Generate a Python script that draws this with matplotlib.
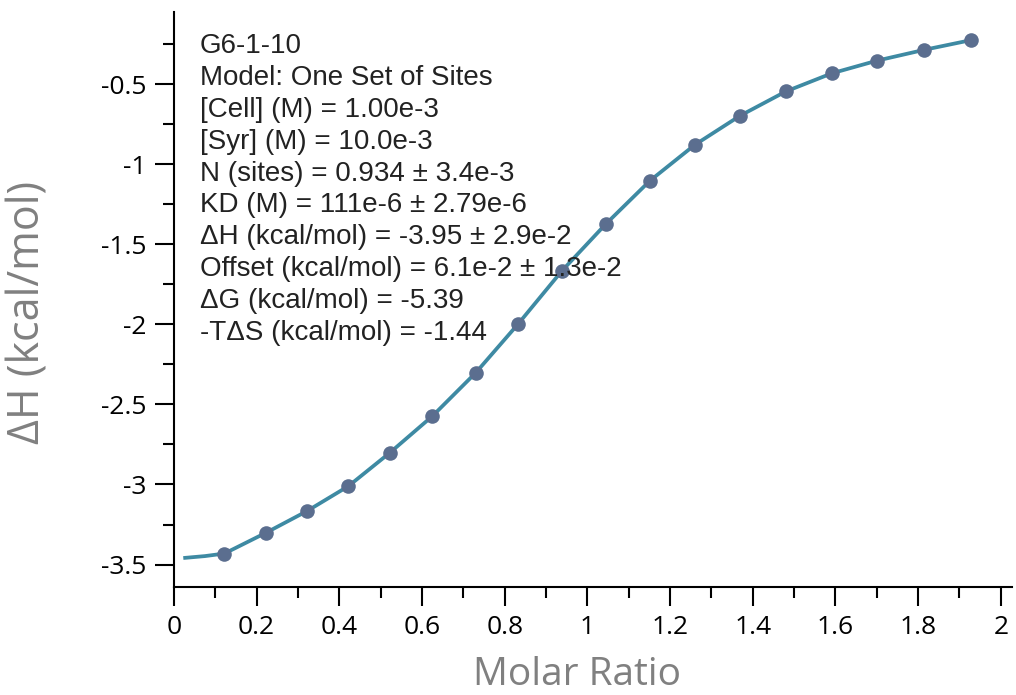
import numpy as np
import matplotlib
matplotlib.use("Agg")
import matplotlib.pyplot as plt
from matplotlib.ticker import MultipleLocator

# data
ratio = [0.122, 0.222, 0.321, 0.422, 0.522, 0.625, 0.730, 0.833, 0.938,
         1.044, 1.151, 1.260, 1.369, 1.480, 1.591, 1.700, 1.815, 1.929]
dh = [-3.431, -3.302, -3.167, -3.010, -2.802, -2.573, -2.302, -1.996, -1.667,
      -1.375, -1.104, -0.879, -0.698, -0.546, -0.433, -0.354, -0.286, -0.225]
fit_x = [0.027, 0.075, 0.122, 0.222, 0.321, 0.422, 0.522, 0.625, 0.730, 0.833,
         0.938, 1.044, 1.151, 1.260, 1.369, 1.480, 1.591, 1.700, 1.815, 1.929]
fit_y = [-3.458, -3.447, -3.431, -3.302, -3.167, -3.010, -2.802, -2.573, -2.302,
         -1.996, -1.667, -1.375, -1.104, -0.879, -0.698, -0.546, -0.433, -0.354,
         -0.286, -0.225]

xtick_vals = [0, 0.2, 0.4, 0.6, 0.8, 1.0, 1.2, 1.4, 1.6, 1.8, 2.0]
xtick_labels = ["0", "0.2", "0.4", "0.6", "0.8", "1", "1.2", "1.4", "1.6", "1.8", "2"]
ytick_vals = [-3.5, -3, -2.5, -2, -1.5, -1, -0.5]
ytick_labels = ["-3.5", "-3", "-2.5", "-2", "-1.5", "-1", "-0.5"]

info = [
    "G6-1-10",
    "Model: One Set of Sites",
    "[Cell] (M) = 1.00e-3",
    "[Syr] (M) = 10.0e-3",
    "N (sites) = 0.934 \u00b1 3.4e-3",
    "KD (M) = 111e-6 \u00b1 2.79e-6",
    "\u0394H (kcal/mol) = -3.95 \u00b1 2.9e-2",
    "Offset (kcal/mol) = 6.1e-2 \u00b1 1.3e-2",
    "\u0394G (kcal/mol) = -5.39",
    "-T\u0394S (kcal/mol) = -1.44",
]

W, H = 1016, 695
fig = plt.figure(figsize=(W / 100, H / 100), dpi=100)
ax = fig.add_axes([174 / W, 1 - 587 / H, (1012 - 174) / W, (587 - 12) / H])

ax.plot(fit_x, fit_y, color="#3e8aa3", lw=2.7, zorder=2)
ax.plot(ratio, dh, "o", color="#5b6e8f", ms=10.5, mec="none", zorder=3)

ax.set_xlim(0, 2.027)
ax.set_ylim(-3.64, -0.05)
ax.set_xticks(xtick_vals)
ax.set_xticklabels(xtick_labels)
ax.set_yticks(ytick_vals)
ax.set_yticklabels(ytick_labels)
ax.xaxis.set_minor_locator(MultipleLocator(0.1))
ax.yaxis.set_minor_locator(MultipleLocator(0.25))

for s in ["top", "right"]:
    ax.spines[s].set_visible(False)
for s in ["left", "bottom"]:
    ax.spines[s].set_linewidth(1.5)

ax.tick_params(which="major", length=14, width=1.5, direction="out", pad=6,
               labelsize=19, labelfontfamily="Open Sans")
ax.tick_params(which="minor", length=8, width=1.5, direction="out")

# axis titles placed by hand
fig.text(577 / W, 1 - 685 / H, "Molar Ratio", fontsize=28, family="Open Sans",
         color="#808080", ha="center", va="baseline")
fig.text(28 / W, 1 - 312 / H, "\u0394H (kcal/mol)", fontsize=31, family="Open Sans",
         color="#808080", ha="center", va="center", rotation=90)

for i, line in enumerate(info):
    fig.text(200 / W, 1 - (53 + i * 31.9) / H, line, fontsize=20,
             family="Liberation Sans", color="#222222", va="baseline", ha="left")

fig.savefig("out.png", dpi=100)
